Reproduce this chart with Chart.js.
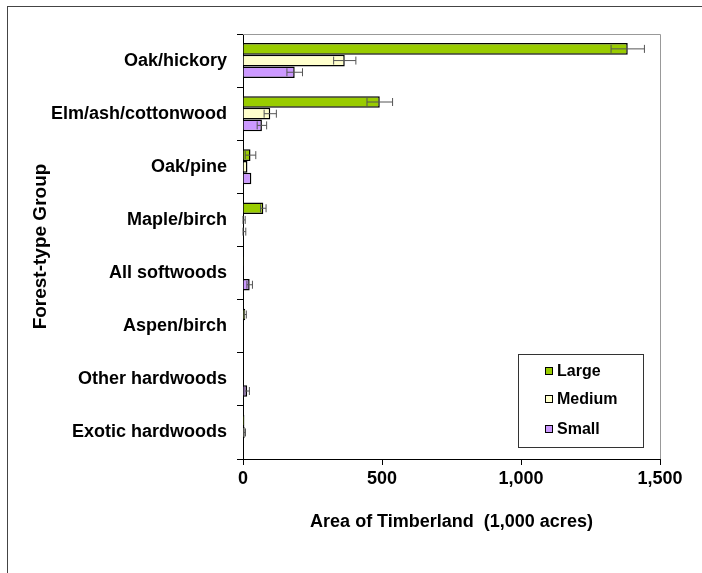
<!DOCTYPE html>
<html>
<head>
<meta charset="utf-8">
<script src="https://cdn.jsdelivr.net/npm/chart.js@4.4.0/dist/chart.umd.min.js"></script>
<style>
  body { margin: 0; background: #fff; }
  #wrap { position: relative; width: 702px; height: 573px; overflow: hidden; }
  #frame { position: absolute; left: 7px; top: 6px; width: 800px; height: 700px;
           border-left: 1px solid #444; border-top: 1px solid #444; }
  canvas { position: absolute; left: 0; top: 0; }
</style>
</head>
<body>
<div id="wrap">
  <div id="frame"></div>
  <canvas id="myChart" width="702" height="573"></canvas>
</div>
<script>
'use strict'

const groups = ['Oak/hickory', 'Elm/ash/cottonwood', 'Oak/pine', 'Maple/birch',
  'All softwoods', 'Aspen/birch', 'Other hardwoods', 'Exotic hardwoods'];

const large = [1384, 492, 27, 73, 3, 8, 0, 5];
const medium = [366, 98, 16, 2, 0, 0, 0, 6];
const small = [186, 68, 30, 2, 24, 0, 15, 0];

const largeErr = [60, 46, 19, 10, 0, 4, 0, 0];
const mediumErr = [40, 22, 0, 6, 0, 0, 0, 3];
const smallErr = [28, 17, 0, 8, 10, 0, 8, 0];

const xTicks = [0, 500, 1000, 1500];

const family = 'Liberation Sans, Arial, sans-serif';
const tickFont = { family: family, size: 18, weight: 'bold' };

// error bars drawn through the x scale
const errorBars = {
  id: 'errorBars',
  afterDatasetsDraw(chart) {
    const ctx = chart.ctx;
    const xs = chart.scales.x;
    chart.data.datasets.forEach((ds, i) => {
      const meta = chart.getDatasetMeta(i);
      meta.data.forEach((bar, j) => {
        const e = ds.errors[j];
        if (!e) return;
        const v = ds.data[j];
        const x1 = xs.getPixelForValue(Math.max(0, v - e));
        const x2 = xs.getPixelForValue(v + e);
        const y = bar.y;
        ctx.save();
        ctx.strokeStyle = '#555';
        ctx.lineWidth = 1;
        ctx.beginPath();
        ctx.moveTo(x1, y); ctx.lineTo(x2, y);
        ctx.moveTo(x1, y - 4); ctx.lineTo(x1, y + 4);
        ctx.moveTo(x2, y - 4); ctx.lineTo(x2, y + 4);
        ctx.stroke();
        ctx.restore();
      });
    });
  }
};

// gray frame on top/right of plot, and boxed legend
const extras = {
  id: 'extras',
  beforeDatasetsDraw(chart) {
    const { ctx, chartArea: a } = chart;
    ctx.save();
    ctx.strokeStyle = '#999';
    ctx.lineWidth = 1;
    ctx.beginPath();
    ctx.moveTo(a.left, a.top + 0.5);
    ctx.lineTo(a.right + 0.5, a.top + 0.5);
    ctx.lineTo(a.right + 0.5, a.bottom);
    ctx.stroke();
    ctx.restore();
  },
  afterDraw(chart) {
    const ctx = chart.ctx;
    ctx.save();
    ctx.fillStyle = '#fff';
    ctx.fillRect(518, 354, 125, 93);
    ctx.strokeStyle = '#333';
    ctx.lineWidth = 1;
    ctx.strokeRect(518.5, 354.5, 125, 93);
    ctx.font = 'bold 16px ' + family;
    ctx.textBaseline = 'middle';
    const rows = [371, 399, 429];
    chart.data.datasets.forEach((ds, i) => {
      const y = rows[i];
      ctx.fillStyle = ds.backgroundColor;
      ctx.fillRect(545, y - 4, 8, 8);
      ctx.strokeStyle = '#000';
      ctx.strokeRect(545.5, y - 3.5, 7, 7);
      ctx.fillStyle = '#000';
      ctx.fillText(ds.label, 557, y + 1);
    });
    ctx.restore();
  }
};

const ctx = document.getElementById('myChart').getContext('2d');
const chart = new Chart(ctx, {
  type: 'bar',
  data: {
    labels: groups,
    datasets: [
      { label: 'Large', data: large, errors: largeErr, backgroundColor: '#99CC00' },
      { label: 'Medium', data: medium, errors: mediumErr, backgroundColor: '#FFFFCC' },
      { label: 'Small', data: small, errors: smallErr, backgroundColor: '#CC99FF' }
    ]
  },
  options: {
    indexAxis: 'y',
    responsive: false,
    animation: false,
    layout: { padding: { left: 0, top: 34, right: 42, bottom: 0 } },
    datasets: {
      bar: {
        borderColor: '#000',
        borderWidth: 1.5,
        categoryPercentage: 0.66,
        barPercentage: 1.0
      }
    },
    plugins: { legend: { display: false }, tooltip: { enabled: false } },
    scales: {
      x: {
        min: 0,
        max: 1500,
        afterFit(scale) { scale.height = 114; },
        afterBuildTicks(scale) { scale.ticks = xTicks.map(v => ({ value: v })); },
        ticks: {
          font: tickFont,
          color: '#000',
          padding: 3,
          maxRotation: 0,
          callback: v => v.toLocaleString('en-US')
        },
        grid: { drawOnChartArea: false, tickLength: 6, color: '#000' },
        border: { color: '#000', width: 1 },
        title: {
          display: true,
          text: 'Area of Timberland  (1,000 acres)',
          font: { family: family, size: 18, weight: 'bold' },
          color: '#000',
          padding: { top: 0, bottom: 40 }
        }
      },
      y: {
        afterFit(scale) { scale.width = 243; },
        ticks: { font: tickFont, color: '#000', padding: 10 },
        grid: { drawOnChartArea: false, tickLength: 6, color: '#000', offset: true },
        border: { color: '#000', width: 1 },
        title: {
          display: true,
          text: 'Forest-type Group',
          font: { family: family, size: 19, weight: 'bold' },
          color: '#000',
          padding: { top: 29, bottom: 0 }
        }
      }
    }
  },
  plugins: [errorBars, extras]
});
</script>
</body>
</html>
